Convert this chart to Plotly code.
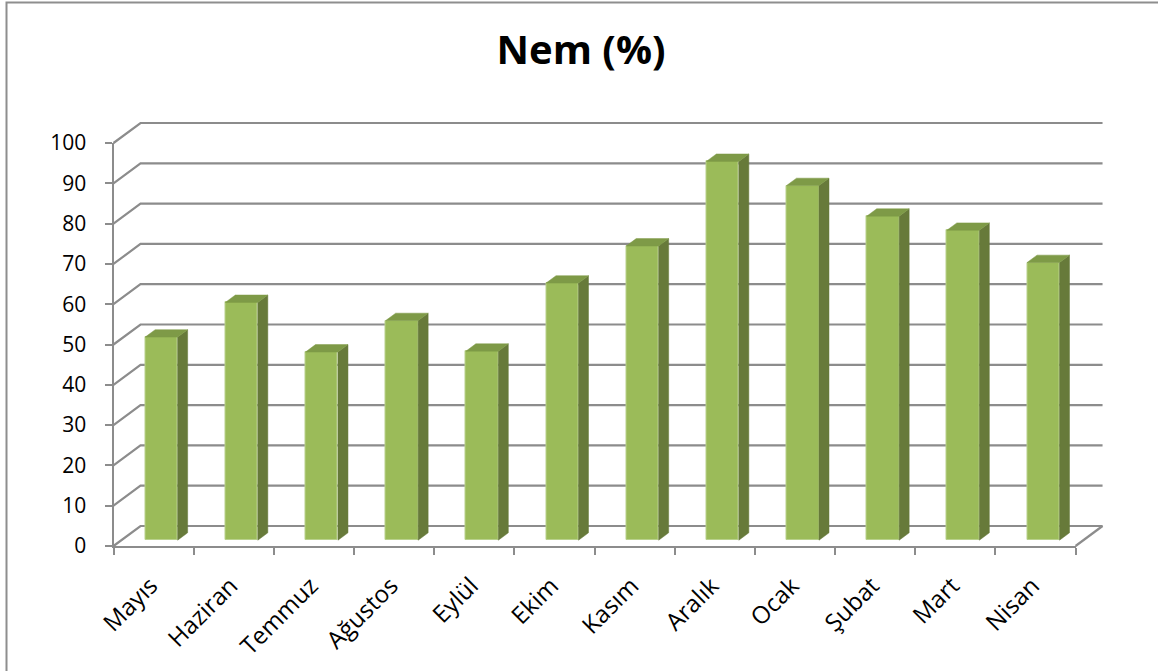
import plotly.graph_objects as go

# ---- data ----
months = ["Mayıs", "Haziran", "Temmuz", "Ağustos", "Eylül", "Ekim",
          "Kasım", "Aralık", "Ocak", "Şubat", "Mart", "Nisan"]
humidity = [50.4, 59, 46.7, 54.5, 46.9, 63.8, 73, 94, 88, 80.4, 76.9, 68.9]
y_ticks = list(range(0, 101, 10))
title_text = "Nem (%)"

# ---- geometry (pixels) ----
W, H = 1158, 671
P = 80.17          # px per category (front plane)
S = 4.03           # px per value unit
X_LEFT = 113.5     # pixel of front x=-0.5
Y0 = 546           # pixel of front y=0
DX, DY = 27, 20    # depth offset in px
n = len(months)
ddx, ddy = DX / P, DY / S
f0, f1 = 0.29, 0.66
bw = 0.405

GRID = "#8C8C8C"
FONT = "Open Sans"

def px_x(p):
    return p / W

def px_y(p):
    return (H - p) / H

fig = go.Figure()

# subplot 1 : front axes only
x1_right = X_LEFT + n * P
y1_top = Y0 - 100 * S
# subplot 2 : drawing area with padding
pL, pR, pT, pB = 4, 6, 6, 14
x2_dom = [px_x(X_LEFT - pL), px_x(x1_right + DX + pR)]
y2_dom = [px_y(Y0 + pB), px_y(y1_top - DY - pT)]
x2_rng = [-0.5 - pL / P, n - 0.5 + (DX + pR) / P]
y2_rng = [-pB / S, 100 + (DY + pT) / S]

# invisible anchor trace so the front axes subplot is drawn
fig.add_trace(go.Scatter(x=[-0.5], y=[0], mode="markers",
                         marker=dict(opacity=0), xaxis="x", yaxis="y",
                         showlegend=False, hoverinfo="skip"))

# front faces
xc = [i + f0 * ddx for i in range(n)]
fig.add_trace(go.Bar(
    x=xc, y=humidity, base=[f0 * ddy] * n, width=bw,
    marker=dict(color="#9BBB59", line=dict(color="#B9D18C", width=1)),
    xaxis="x2", yaxis="y2", showlegend=False, hoverinfo="skip"))

# side & top faces
sx, sy, tx, ty = [], [], [], []
bdx, bdy = (f1 - f0) * ddx, (f1 - f0) * ddy
for i, v in enumerate(humidity):
    xl = xc[i] - bw / 2
    xr = xc[i] + bw / 2
    b = f0 * ddy
    t = b + v
    sx += [xr, xr + bdx, xr + bdx, xr, xr, None]
    sy += [b, b + bdy, t + bdy, t, b, None]
    tx += [xl, xr, xr + bdx, xl + bdx, xl, None]
    ty += [t, t, t + bdy, t + bdy, t, None]
fig.add_trace(go.Scatter(x=sx, y=sy, fill="toself", fillcolor="#677A3A",
                         line=dict(color="#677A3A", width=0.5), mode="lines",
                         xaxis="x2", yaxis="y2", showlegend=False, hoverinfo="skip"))
fig.add_trace(go.Scatter(x=tx, y=ty, fill="toself", fillcolor="#7E9A47",
                         line=dict(color="#7E9A47", width=0.5), mode="lines",
                         xaxis="x2", yaxis="y2", showlegend=False, hoverinfo="skip"))

# gridlines on side + back walls
shapes = []
for v in y_ticks:
    path = (f"M {-0.5},{v} L {-0.5 + ddx},{v + ddy} "
            f"L {n - 0.5 + ddx},{v + ddy}")
    shapes.append(dict(type="path", path=path, xref="x2", yref="y2",
                       line=dict(color=GRID, width=2.2), layer="below"))
shapes.append(dict(type="line", x0=n - 0.5, y0=0, x1=n - 0.5 + ddx, y1=ddy,
                   xref="x2", yref="y2", line=dict(color=GRID, width=2.2),
                   layer="below"))
# chart border
shapes.append(dict(type="rect", xref="paper", yref="paper",
                   x0=6.5 / W, x1=1.02, y0=-0.02, y1=1 - 2.5 / H,
                   line=dict(color="#8E8E8E", width=2)))

fig.update_layout(
    width=W, height=H, autosize=False,
    margin=dict(l=0, r=0, t=0, b=0, autoexpand=False),
    paper_bgcolor="white", plot_bgcolor="rgba(0,0,0,0)",
    shapes=shapes,
    title=dict(text=title_text, x=581 / W, xanchor="center",
               y=1 - 50 / H, yanchor="middle", automargin=False,
               font=dict(family=FONT, size=40, color="black", weight=700)),
    bargap=0,
    xaxis=dict(domain=[px_x(X_LEFT), px_x(x1_right)], range=[-0.5, n - 0.5],
               anchor="y", tickmode="array", automargin=False,
               tickvals=[i - 0.5 for i in range(n + 1)],
               showticklabels=False, ticks="outside", ticklen=7,
               tickwidth=2, tickcolor=GRID, showline=True, linecolor=GRID,
               linewidth=2, showgrid=False, zeroline=False),
    yaxis=dict(domain=[px_y(Y0), px_y(y1_top)], range=[0, 100], anchor="x",
               tickmode="array", tickvals=y_ticks, automargin=False,
               ticks="outside", ticklen=7, tickwidth=2, tickcolor=GRID,
               showline=True, linecolor=GRID, linewidth=2, showgrid=False,
               zeroline=False, ticklabelstandoff=14,
               tickfont=dict(family=FONT, size=21, color="black")),
    xaxis2=dict(domain=x2_dom, range=x2_rng, anchor="y2", automargin=False,
                tickmode="array", tickvals=list(range(n)), ticktext=months,
                tickangle=-45, ticks="", showline=False, showgrid=False,
                zeroline=False, ticklabelstandoff=6, ticklabelshift=-3,
                tickfont=dict(family=FONT, size=24, color="black")),
    yaxis2=dict(domain=y2_dom, range=y2_rng, anchor="x2", automargin=False,
                showticklabels=False, ticks="", showline=False,
                showgrid=False, zeroline=False),
)

fig.write_html("out.html")
